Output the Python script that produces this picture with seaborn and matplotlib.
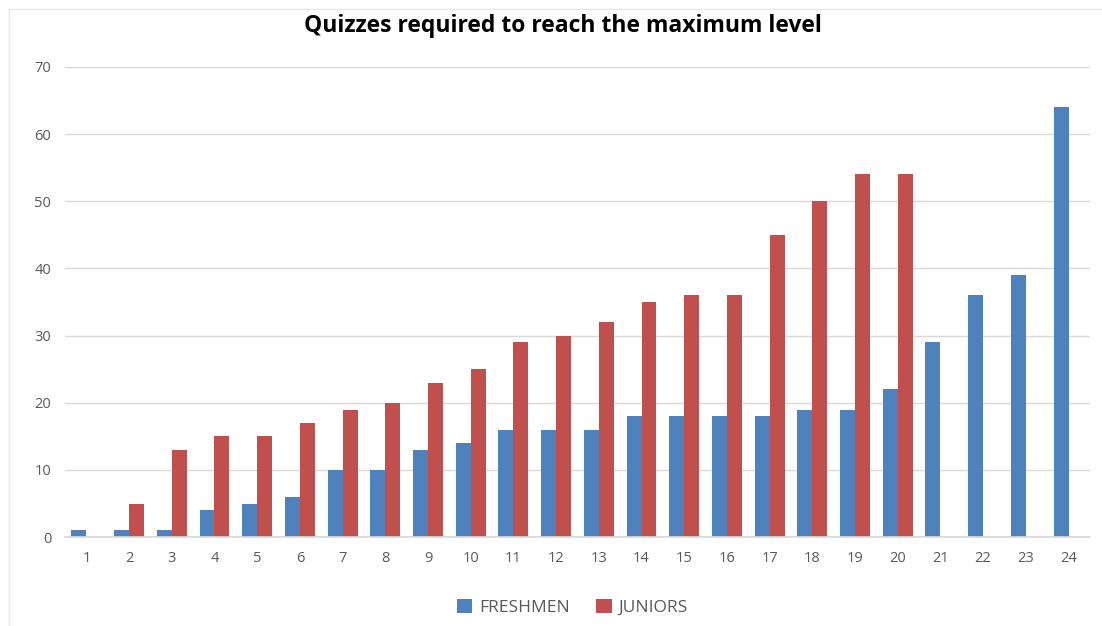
import pandas as pd
import seaborn as sns
import matplotlib.pyplot as plt
from matplotlib.lines import Line2D

levels = [str(i) for i in range(1, 25)]
freshmen = [1, 1, 1, 4, 5, 6, 10, 10, 13, 14, 16, 16, 16, 18, 18, 18, 18, 19, 19, 22, 29, 36, 39, 64]
juniors = [0, 5, 13, 15, 15, 17, 19, 20, 23, 25, 29, 30, 32, 35, 36, 36, 45, 50, 54, 54, 0, 0, 0, 0]
groups = ['FRESHMEN', 'JUNIORS']
colors = ['#4F81BD', '#C0504D']

df = pd.DataFrame({
    'level': levels * 2,
    'quizzes': freshmen + juniors,
    'group': [groups[0]] * len(levels) + [groups[1]] * len(levels),
})

sns.set_theme(style='white')
plt.rcParams['font.family'] = ['Open Sans', 'DejaVu Sans']

fig = plt.figure(figsize=(11.02, 6.26), dpi=100)
ax = fig.add_axes([0.059, 0.142, 0.930, 0.751])

sns.barplot(data=df, x='level', y='quizzes', hue='group', order=levels,
            hue_order=groups, palette=colors, width=0.70, saturation=1,
            linewidth=0, ax=ax, legend=True)

ax.set_ylim(0, 70)
ax.set_yticks(range(0, 71, 10))
ax.set_xlim(-0.5, len(levels) - 0.5)
ax.yaxis.grid(True, color='#D9D9D9', linewidth=1)
ax.set_axisbelow(True)
for s in ['top', 'right', 'left']:
    ax.spines[s].set_visible(False)
ax.spines['bottom'].set_color('#D9D9D9')
ax.tick_params(axis='both', length=0, labelsize=10.5, colors='#595959')
ax.tick_params(axis='x', pad=10)
ax.tick_params(axis='y', pad=10)
ax.set_xlabel('')
ax.set_ylabel('')

fig.suptitle('Quizzes required to reach the maximum level', x=0.511, y=0.978,
             fontsize=16.5, fontweight='bold', color='#000000')

ax.legend(loc='center', bbox_to_anchor=(0.495, -0.149), ncol=2, frameon=False,
          fontsize=12.5, handlelength=0.9, handleheight=0.9, handletextpad=0.4,
          columnspacing=1.5, labelcolor='#595959')

# faint chart border (top and left edges of the pasted chart)
fig.add_artist(Line2D([9 / 1102, 1], [1 - 9 / 626, 1 - 9 / 626], color='#E8E8E8', lw=1))
fig.add_artist(Line2D([9 / 1102, 9 / 1102], [0, 1 - 9 / 626], color='#E8E8E8', lw=1))

fig.savefig('out.png', dpi=100)
